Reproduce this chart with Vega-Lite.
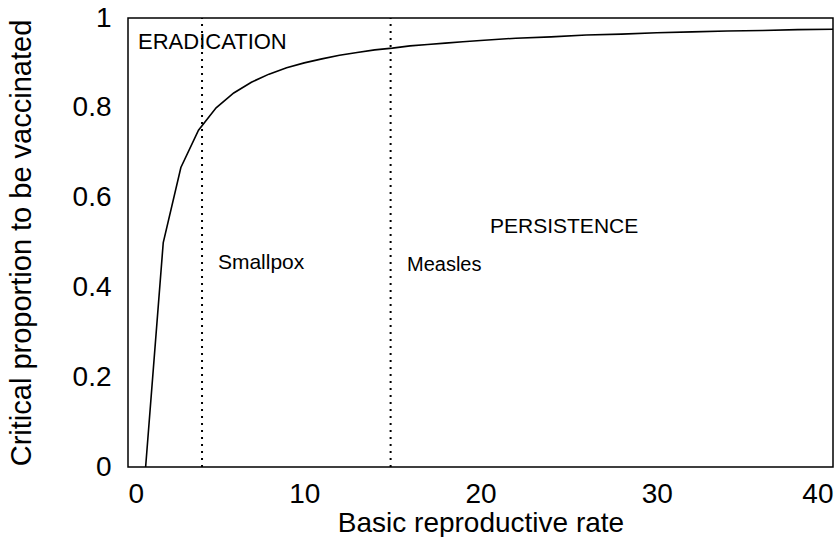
{
  "$schema": "https://vega.github.io/schema/vega-lite/v6.json",
  "autosize": "none",
  "width": 705,
  "height": 449,
  "padding": {"left": 128, "top": 18, "right": 7, "bottom": 70},
  "background": "white",
  "config": {
    "view": {"stroke": "black", "strokeWidth": 1.5},
    "font": "Liberation Sans",
    "axis": {"grid": false, "domain": false, "ticks": false, "labelFont": "Liberation Sans", "titleFont": "Liberation Sans", "labelColor": "black", "titleColor": "black", "titleFontWeight": "normal", "labelFontSize": 28, "titleFontSize": 28}
  },
  "layer": [
    {
      "data": {"values": [
        {"R": 1, "p": 0}, {"R": 2, "p": 0.5}, {"R": 3, "p": 0.667}, {"R": 4, "p": 0.75},
        {"R": 5, "p": 0.8}, {"R": 6, "p": 0.833}, {"R": 7, "p": 0.857}, {"R": 8, "p": 0.875},
        {"R": 9, "p": 0.889}, {"R": 10, "p": 0.9}, {"R": 11, "p": 0.909}, {"R": 12, "p": 0.917},
        {"R": 13, "p": 0.923}, {"R": 14, "p": 0.929}, {"R": 15, "p": 0.933}, {"R": 16, "p": 0.938},
        {"R": 17, "p": 0.941}, {"R": 18, "p": 0.944}, {"R": 19, "p": 0.947}, {"R": 20, "p": 0.95},
        {"R": 22, "p": 0.955}, {"R": 24, "p": 0.958}, {"R": 26, "p": 0.962}, {"R": 28, "p": 0.964},
        {"R": 30, "p": 0.967}, {"R": 32, "p": 0.969}, {"R": 34, "p": 0.971}, {"R": 36, "p": 0.972},
        {"R": 38, "p": 0.974}, {"R": 40, "p": 0.975}
      ]},
      "mark": {"type": "line", "color": "black", "strokeWidth": 1.6, "clip": true},
      "encoding": {
        "x": {"field": "R", "type": "quantitative", "scale": {"domain": [0, 40], "nice": false, "zero": false}, "axis": {"values": [0, 10, 20, 30, 40], "format": "~g", "labelPadding": 13, "title": "Basic reproductive rate", "titlePadding": 1}},
        "y": {"field": "p", "type": "quantitative", "scale": {"domain": [0, 1], "nice": false}, "axis": {"values": [0, 0.2, 0.4, 0.6, 0.8, 1], "format": "~g", "labelPadding": 17, "title": "Critical proportion to be vaccinated", "titlePadding": 36, "titleFontSize": 29}}
      }
    },
    {
      "data": {"values": [{"R": 4.2}, {"R": 14.9}]},
      "mark": {"type": "rule", "color": "black", "strokeWidth": 2, "strokeDash": [2, 5]},
      "encoding": {
        "x": {"field": "R", "type": "quantitative"},
        "y": {"datum": 0},
        "y2": {"datum": 1}
      }
    },
    {
      "data": {"values": [
        {"R": 0.57, "p": 0.947, "label": "ERADICATION", "size": 22},
        {"R": 5.1, "p": 0.454, "label": "Smallpox", "size": 21},
        {"R": 15.83, "p": 0.45, "label": "Measles", "size": 20},
        {"R": 20.54, "p": 0.535, "label": "PERSISTENCE", "size": 21}
      ]},
      "mark": {"type": "text", "align": "left", "baseline": "middle", "color": "black", "font": "Liberation Sans"},
      "encoding": {
        "x": {"field": "R", "type": "quantitative"},
        "y": {"field": "p", "type": "quantitative"},
        "text": {"field": "label"},
        "size": {"field": "size", "type": "quantitative", "scale": null}
      }
    }
  ]
}
